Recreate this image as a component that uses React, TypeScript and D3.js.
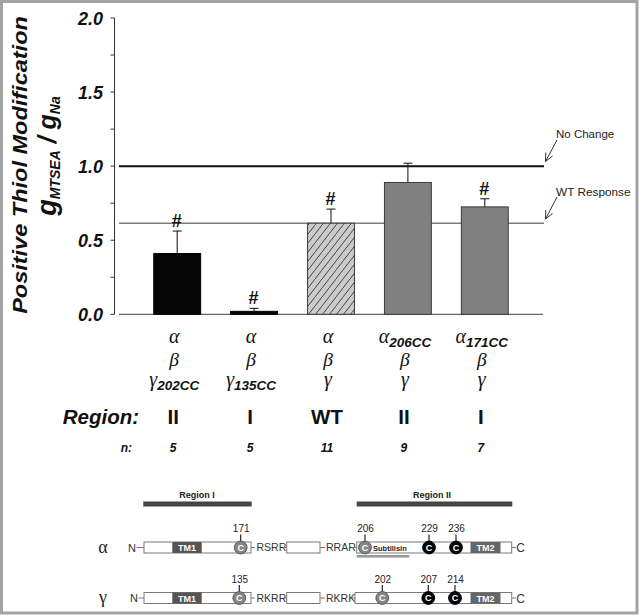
import React from "react";
import * as d3 from "d3";

// ---------- data ----------
const categories = ["c1", "c2", "c3", "c4", "c5"];
const values = [0.41, 0.02, 0.615, 0.89, 0.725];
const errors = [0.152, 0.02, 0.095, 0.13, 0.055];
const significant = [true, true, true, false, true];
const alphaSub = ["", "", "", "206CC", "171CC"];
const gammaSub = ["202CC", "135CC", "", "", ""];
const regionLabels = ["II", "I", "WT", "II", "I"];
const nValues = ["5", "5", "11", "9", "7"];
const yTicks = [0, 0.5, 1.0, 1.5, 2.0];
const yMinorTicks = [0.25, 0.75, 1.25, 1.75];
const noChange = 1.0;
const wtResponse = 0.615;

// diagram data
const alphaSites = [
  { x: 240.7, label: "171", kind: "gray" },
  { x: 365, label: "206", kind: "gray" },
  { x: 429, label: "229", kind: "black" },
  { x: 456, label: "236", kind: "black" },
];
const gammaSites = [
  { x: 239.3, label: "135", kind: "gray" },
  { x: 382.3, label: "202", kind: "gray" },
  { x: 428.3, label: "207", kind: "black" },
  { x: 455, label: "214", kind: "black" },
];
const alphaLinkers = ["RSRR", "RRAR"];
const gammaLinkers = ["RKRR", "RKRK"];

const SANS = "'Liberation Sans', Arial, sans-serif";
const SERIF = "'Liberation Serif', 'Times New Roman', serif";

const barFill = ["#050505", "#050505", "url(#hatch)", "#808080", "#808080"];
const barStroke = ["#000", "#000", "#3a3a3a", "#3a3a3a", "#3a3a3a"];

function Chain({ y, greek, sites, linkers, subtilisin, nX, box3Start }: any) {
  const h = 11;
  const top = y - h / 2;
  const stroke = "#7a7a7a";
  return (
    <g>
      <text x={103} y={y + 5} fontFamily={SERIF} fontSize={18} textAnchor="middle" fill="#222">{greek}</text>
      <text x={nX} y={y + 4} fontFamily={SANS} fontSize={11} textAnchor="middle" fill="#333">N</text>
      <line x1={nX + 4.5} x2={144} y1={y} y2={y} stroke={stroke} />
      <rect x={144} y={top} width={107} height={h} fill="#fff" stroke={stroke} />
      <rect x={172.3} y={top} width={29.4} height={h} fill="#555" />
      <text x={187} y={y + 3.5} fontFamily={SANS} fontSize={9} fontWeight="bold" textAnchor="middle" fill="#fff">TM1</text>
      <line x1={251} x2={255} y1={y} y2={y} stroke={stroke} />
      <text x={256.5} y={y + 3.8} fontFamily={SANS} fontSize={10.5} fill="#333">{linkers[0]}</text>
      <line x1={283} x2={286.7} y1={y} y2={y} stroke={stroke} />
      <rect x={286.7} y={top} width={33.3} height={h} fill="#fff" stroke={stroke} />
      <line x1={320} x2={325} y1={y} y2={y} stroke={stroke} />
      <text x={326} y={y + 3.8} fontFamily={SANS} fontSize={10.5} fill="#333">{linkers[1]}</text>
      <line x1={352} x2={box3Start} y1={y} y2={y} stroke={stroke} />
      <rect x={box3Start} y={top} width={511.7 - box3Start} height={h} fill="#fff" stroke={stroke} />
      {subtilisin && (
        <g>
          <rect x={356.7} y={y + 7.5} width={52.6} height={2.6} fill="#9a9a9a" />
          <text x={373} y={y + 3} fontFamily={SANS} fontSize={7.5} fontWeight="bold" fill="#222">Subtilisin</text>
        </g>
      )}
      <rect x={470.5} y={top} width={30} height={h} fill="#666" />
      <text x={485.5} y={y + 3.5} fontFamily={SANS} fontSize={9} fontWeight="bold" textAnchor="middle" fill="#fff">TM2</text>
      <line x1={511.7} x2={516} y1={y} y2={y} stroke={stroke} />
      <text x={520.5} y={y + 4.5} fontFamily={SANS} fontSize={12} textAnchor="middle" fill="#333">C</text>
      {sites.map((s: any) => (
        <g key={s.label}>
          <line x1={s.x} x2={s.x} y1={y - 13} y2={y - 6} stroke="#222" strokeWidth={1.2} />
          <circle cx={s.x} cy={y} r={6.4} fill={s.kind === "black" ? "#050505" : "#858585"} stroke={s.kind === "black" ? "#000" : "#5a5a5a"} strokeWidth={1} />
          <text x={s.x} y={y + 3.3} fontFamily={SANS} fontSize={9} fontWeight="bold" textAnchor="middle" fill="#fff">C</text>
          <text x={s.x + 0.5} y={y - 15.5} fontFamily={SANS} fontSize={10} textAnchor="middle" fill="#222">{s.label}</text>
        </g>
      ))}
    </g>
  );
}

export default function App() {
  const W = 642, H = 616;
  const y = d3.scaleLinear().domain([0, 2]).range([314.3, 18]);
  const x = d3.scaleBand<string>().domain(categories).range([119, 543]).paddingInner(0.39).paddingOuter(0.452);
  const bw = x.bandwidth();
  const axisX = 114.5;
  const cx = (i: number) => (x(categories[i]) as number) + bw / 2;

  return (
    <div style={{ position: "absolute", left: 0, top: 0 }}>
      <svg width={W} height={H} style={{ display: "block", background: "#fff" }}>
        <defs>
          <pattern id="hatch" patternUnits="userSpaceOnUse" width={7} height={9}>
            <rect width={7} height={9} fill="#cbcbcb" />
            <path d="M-0.5,9.6 L7.5,-0.6" stroke="#333" strokeWidth={0.9} />
          </pattern>
        </defs>
        <rect x={1.5} y={1.5} width={635.5} height={611.5} fill="#fff" stroke="#a3a3a3" strokeWidth={3} />

        {/* y axis */}
        <line x1={axisX} x2={axisX} y1={y(0)} y2={y(2)} stroke="#333" strokeWidth={1} />
        {yTicks.concat(yMinorTicks).map((t) => (
          <line key={t} x1={axisX - 4} x2={axisX} y1={y(t)} y2={y(t)} stroke="#333" strokeWidth={1} />
        ))}
        {yTicks.map((t) => (
          <text key={t} x={103} y={y(t) + 6.5} fontFamily={SANS} fontSize={18} fontWeight="bold" fontStyle="italic" textAnchor="end" fill="#111">
            {d3.format(".1f")(t)}
          </text>
        ))}

        {/* y label */}
        <text transform="translate(26.5,165) rotate(-90) scale(1.12,1)" fontFamily={SANS} fontSize={21} fontWeight="bold" fontStyle="italic" textAnchor="middle" fill="#111">
          Positive Thiol Modification
        </text>
        <text transform="translate(56,156) rotate(-90)" fontFamily={SANS} fontWeight="bold" fontStyle="italic" textAnchor="middle" fill="#111">
          <tspan fontSize={27}>g</tspan>
          <tspan fontSize={14} dy={4}>MTSEA</tspan>
          <tspan fontSize={25} dy={-4}> / g</tspan>
          <tspan fontSize={14} dy={4}>Na</tspan>
        </text>

        {/* reference lines */}
        <line x1={119} x2={544} y1={y(wtResponse)} y2={y(wtResponse)} stroke="#7d7d7d" strokeWidth={1.6} />
        <line x1={119} x2={544} y1={y(noChange)} y2={y(noChange)} stroke="#111" strokeWidth={2} />

        {/* x baseline */}
        <line x1={119} x2={543} y1={y(0)} y2={y(0)} stroke="#666" strokeWidth={1.2} />

        {/* bars */}
        {values.map((v, i) => (
          <g key={i}>
            <line x1={cx(i)} x2={cx(i)} y1={y(v)} y2={y(v + errors[i])} stroke="#222" strokeWidth={1.1} />
            <line x1={cx(i) - 4.5} x2={cx(i) + 4.5} y1={y(v + errors[i])} y2={y(v + errors[i])} stroke="#222" strokeWidth={1.1} />
            <rect x={x(categories[i])} y={y(v)} width={bw} height={y(0) - y(v)} fill={barFill[i]} stroke={barStroke[i]} strokeWidth={1} />
            {significant[i] && (
              <text x={cx(i) - 0.5} y={y(v + errors[i]) - 4} fontFamily={SANS} fontSize={18} fontWeight="bold" textAnchor="middle" fill="#111">#</text>
            )}
          </g>
        ))}

        {/* annotations */}
        <text x={556} y={138} fontFamily={SANS} fontSize={11.5} fill="#222">No Change</text>
        <g stroke="#333" strokeWidth={1} fill="none">
          <path d="M557,140 L545.5,161.5" />
          <path d="M545.5,161.5 L545.8,152.5 M545.5,161.5 L552.5,156" />
          <path d="M557,197 L545.5,219" />
          <path d="M545.5,219 L545.8,210 M545.5,219 L552.5,213.5" />
        </g>
        <text x={556} y={195.5} fontFamily={SANS} fontSize={11.8} fill="#222">WT Response</text>

        {/* category labels */}
        {categories.map((c, i) => (
          <g key={c} fill="#111">
            <text x={cx(i) - 3} y={343} textAnchor="middle">
              <tspan fontFamily={SERIF} fontStyle="italic" fontSize={20}>α</tspan>
              {alphaSub[i] && (
                <tspan fontFamily={SANS} fontStyle="italic" fontWeight="bold" fontSize={13.5} dy={4}>{alphaSub[i]}</tspan>
              )}
            </text>
            <text x={cx(i) - 3} y={365.5} textAnchor="middle" fontFamily={SERIF} fontStyle="italic" fontSize={19.5}>β</text>
            <text x={cx(i) - 3} y={386} textAnchor="middle">
              <tspan fontFamily={SERIF} fontStyle="italic" fontSize={20}>γ</tspan>
              {gammaSub[i] && (
                <tspan fontFamily={SANS} fontStyle="italic" fontWeight="bold" fontSize={13.5} dy={3.5}>{gammaSub[i]}</tspan>
              )}
            </text>
            <text x={cx(i) - 4} y={423.5} textAnchor="middle" fontFamily={SANS} fontWeight="bold" fontSize={20.5}>{regionLabels[i]}</text>
            <text x={cx(i) - 4} y={452} textAnchor="middle" fontFamily={SANS} fontWeight="bold" fontStyle="italic" fontSize={12}>{nValues[i]}</text>
          </g>
        ))}
        <text x={139} y={423.5} textAnchor="end" fontFamily={SANS} fontWeight="bold" fontStyle="italic" fontSize={20.5} fill="#111">Region:</text>
        <text x={132} y={452} textAnchor="end" fontFamily={SANS} fontWeight="bold" fontStyle="italic" fontSize={12} fill="#111">n:</text>

        {/* diagram: regions */}
        <rect x={143.3} y={501.5} width={108.4} height={5} fill="#444" />
        <text x={197} y={498} fontFamily={SANS} fontSize={9} fontWeight="bold" textAnchor="middle" fill="#222">Region I</text>
        <rect x={356.7} y={501.5} width={155.6} height={5} fill="#444" />
        <text x={432} y={498} fontFamily={SANS} fontSize={9} fontWeight="bold" textAnchor="middle" fill="#222">Region II</text>

        <Chain y={547.5} greek="α" sites={alphaSites} linkers={alphaLinkers} subtilisin={true} nX={132} box3Start={356.7} />
        <Chain y={598} greek="γ" sites={gammaSites} linkers={gammaLinkers} subtilisin={false} nX={134} box3Start={355} />
      </svg>
    </div>
  );
}
